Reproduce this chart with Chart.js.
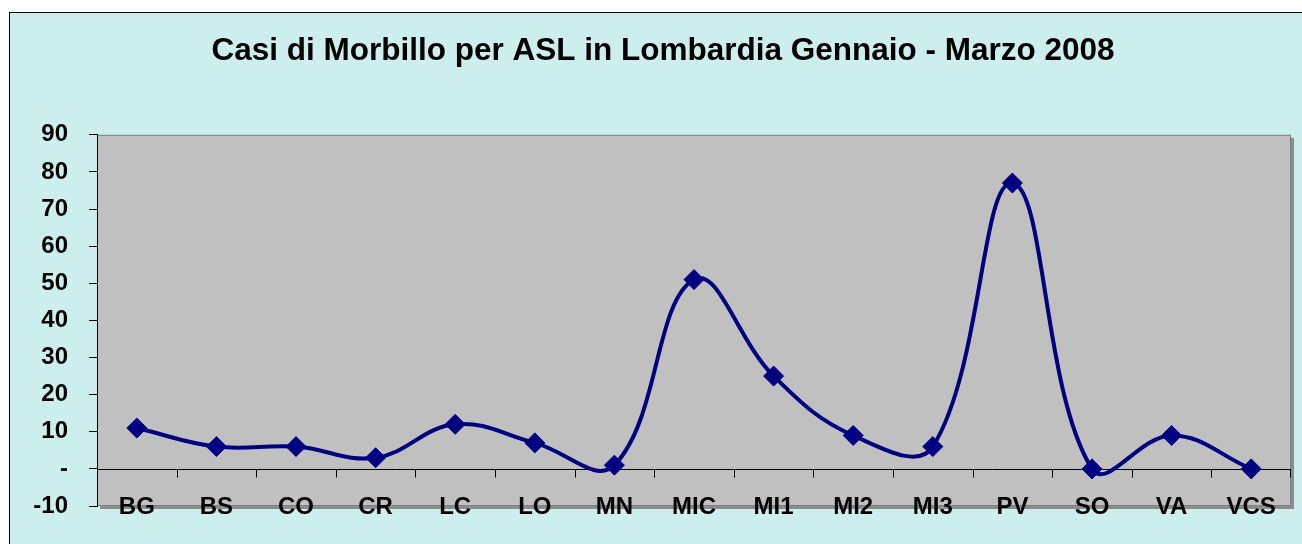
<!DOCTYPE html>
<html>
<head>
<meta charset="utf-8">
<script src="https://cdn.jsdelivr.net/npm/chart.js@4"></script>
<style>
  html, body { margin: 0; padding: 0; background: #fff; overflow: hidden; }
  #frame { position: absolute; left: 9px; top: 12px; width: 1400px; height: 600px;
           background: #CCEFEE; border: 1px solid #000; }
  #wrap { position: absolute; left: 0; top: 0; width: 1302px; height: 544px; }
</style>
</head>
<body>
<div id="frame"></div>
<div id="wrap"><canvas id="chart"></canvas></div>
<script>
// Casi di Morbillo per ASL
const aslLabels = ['BG', 'BS', 'CO', 'CR', 'LC', 'LO', 'MN', 'MIC', 'MI1', 'MI2', 'MI3', 'PV', 'SO', 'VA', 'VCS'];
const casi = [11, 6, 6, 3, 12, 7, 1, 51, 25, 9, 6, 77, 0, 9, 0];
const yMin = -10, yMax = 90, yStep = 10;

const NAVY = '#000080';
const FONT = "'Liberation Sans', Arial, sans-serif";

// grey plot area with a soft shadow, like the Excel original
const plotArea = {
  id: 'plotArea',
  beforeDraw(chart) {
    const { ctx, chartArea: a } = chart;
    ctx.save();
    ctx.fillStyle = '#8C8C8C';
    ctx.fillRect(a.left + 3, a.top + 3, a.right - a.left, a.bottom - a.top);
    ctx.fillStyle = '#C0C0C0';
    ctx.fillRect(a.left, a.top, a.right - a.left, a.bottom - a.top);
    ctx.strokeStyle = '#808080';
    ctx.lineWidth = 1;
    ctx.strokeRect(a.left + 0.5, a.top + 0.5, a.right - a.left - 1, a.bottom - a.top - 1);
    ctx.restore();
  }
};

// category axis crosses at zero: draw the line and its tick marks there
const zeroAxis = {
  id: 'zeroAxis',
  beforeDatasetsDraw(chart) {
    const { ctx, chartArea: a, scales } = chart;
    const y0 = Math.round(scales.y.getPixelForValue(0)) + 0.5;
    const half = (scales.x.getPixelForTick(1) - scales.x.getPixelForTick(0)) / 2;
    ctx.save();
    ctx.strokeStyle = '#000';
    ctx.lineWidth = 1;
    ctx.beginPath();
    ctx.moveTo(a.left, y0);
    ctx.lineTo(a.right, y0);
    const n = aslLabels.length;
    for (let i = 0; i <= n; i++) {
      const x = i < n ? scales.x.getPixelForTick(i) - half : a.right - 1;
      const xr = Math.round(x) + 0.5;
      ctx.moveTo(xr, y0);
      ctx.lineTo(xr, y0 + 8);
    }
    ctx.stroke();
    ctx.restore();
  }
};

new Chart(document.getElementById('chart'), {
  type: 'line',
  data: {
    labels: aslLabels,
    datasets: [{
      data: casi,
      borderColor: NAVY,
      backgroundColor: NAVY,
      borderWidth: 4,
      tension: 0.4,
      pointStyle: 'rectRot',
      pointRadius: 10,
      pointBorderWidth: 1,
      pointBackgroundColor: NAVY,
      pointBorderColor: NAVY,
      clip: false,
    }]
  },
  options: {
    responsive: true,
    maintainAspectRatio: false,
    animation: false,
    layout: { padding: { left: 33, right: 9, top: 0, bottom: 38 } },
    plugins: {
      legend: { display: false },
      tooltip: { enabled: false },
      title: {
        display: true,
        text: 'Casi di Morbillo per ASL in Lombardia Gennaio - Marzo 2008',
        color: '#000',
        font: { family: FONT, size: 31.5, weight: 'bold' },
        padding: { top: 32, bottom: 65 },
      },
    },
    scales: {
      x: {
        offset: true,
        grid: { display: false, drawTicks: false },
        border: { display: false },
        ticks: {
          // labels sit across the bottom edge of the plot, as in the original
          mirror: true,
          color: '#000',
          padding: -16,
          font: { family: FONT, size: 24, weight: 'bold' },
          maxRotation: 0,
          autoSkip: false,
        },
        afterFit(scale) { scale.height = 0; },
      },
      y: {
        min: yMin,
        max: yMax,
        grid: { drawOnChartArea: false, drawTicks: true, tickLength: 8, color: '#000' },
        border: { display: true, color: '#000', width: 1 },
        ticks: {
          stepSize: yStep,
          color: '#000',
          padding: 21,
          font: { family: FONT, size: 24, weight: 'bold' },
          callback: (v) => v === 0 ? '-' : v,
        },
        afterFit(scale) { scale.width = 64; },
      },
    },
  },
  plugins: [plotArea, zeroAxis],
});
</script>
</body>
</html>
